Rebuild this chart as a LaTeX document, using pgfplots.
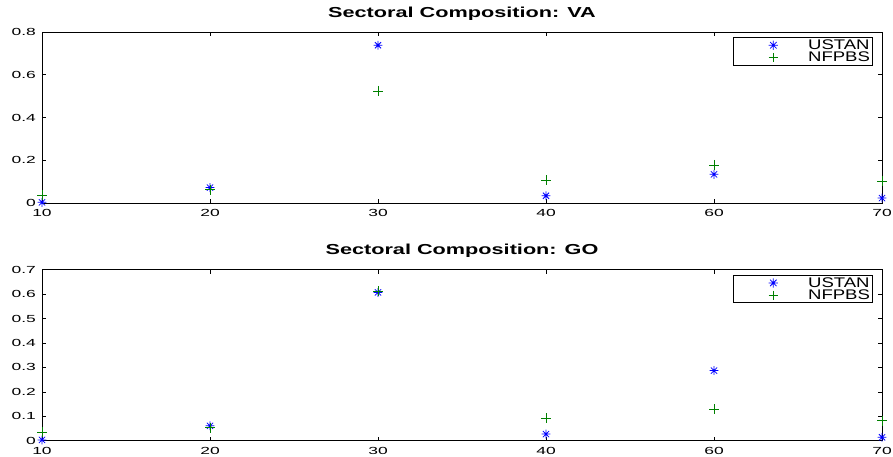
\documentclass[border=0pt]{standalone}
\usepackage{fontspec}
\setmainfont{Liberation Sans}
\newfontfamily\tickfont[FakeStretch=1.7]{Liberation Sans}
\newfontfamily\legfont[FakeStretch=1.33]{Liberation Sans}
\newfontfamily\titfont[FakeStretch=1.5]{Liberation Sans}
\usepackage{pgfplots}
\pgfplotsset{compat=1.18}
\definecolor{mblue}{rgb}{0,0,1}
\definecolor{mgreen}{rgb}{0,0.5,0}
\pgfdeclareplotmark{mstar}{%
  \pgfpathmoveto{\pgfqpoint{-\pgfplotmarksize}{0pt}}%
  \pgfpathlineto{\pgfqpoint{\pgfplotmarksize}{0pt}}%
  \pgfpathmoveto{\pgfqpoint{0pt}{-\pgfplotmarksize}}%
  \pgfpathlineto{\pgfqpoint{0pt}{\pgfplotmarksize}}%
  \pgfpathmoveto{\pgfqpoint{-0.707\pgfplotmarksize}{-0.707\pgfplotmarksize}}%
  \pgfpathlineto{\pgfqpoint{0.707\pgfplotmarksize}{0.707\pgfplotmarksize}}%
  \pgfpathmoveto{\pgfqpoint{-0.707\pgfplotmarksize}{0.707\pgfplotmarksize}}%
  \pgfpathlineto{\pgfqpoint{0.707\pgfplotmarksize}{-0.707\pgfplotmarksize}}%
  \pgfusepathqstroke}
\pgfplotsset{
  limg/.style 2 args={legend image code/.code={\path (0bp,0bp) (72bp,0bp); \draw[color=#1, line width=0.75bp] plot[only marks, mark=#2, mark size=4.6bp, mark options={draw=#1}] coordinates {(38bp,0bp)};}},
  u/.style={only marks, mark=mstar, mark size=4.4bp, mblue, mark options={line width=0.75bp, draw=mblue}, limg={mblue}{mstar}},
  n/.style={only marks, mark=+, mark size=5bp, mgreen, mark options={line width=0.75bp, draw=mgreen}, limg={mgreen}{+}},
  myax/.style={
    scale only axis, width=840bp, height=171bp,
    xmin=1, xmax=6, xtick={1,...,6}, xticklabels={10,20,30,40,60,70},
    tick align=inside, major tick length=4bp,
    axis line style={line width=0.8bp},
    tick style={black, line width=0.6bp},
    /pgf/number format/assume math mode=true,
    ticklabel style={font=\tickfont\fontsize{10.3}{12}\selectfont, inner sep=0pt},
    yticklabel style={xshift=-6bp},
    xticklabel style={yshift=-6bp},
    clip=false,
    title style={at={(0.5,1)}, anchor=base, yshift=9bp, inner sep=0pt,
      font=\titfont\bfseries\fontsize{14.5}{17}\selectfont},
    legend style={at={(rel axis cs:0.989,0.969)}, anchor=north east,
      draw=black, line width=0.6bp, inner xsep=2bp, inner ysep=1.5bp,
      font=\legfont\fontsize{14}{14}\selectfont,
      nodes={inner sep=0.5bp}, row sep=0bp},
    legend cell align=left,
  }
}
\begin{document}
\begin{tikzpicture}
\begin{axis}[myax, at={(42bp,254bp)}, anchor=south west, ymin=0, ymax=0.8,
  ytick={0,0.2,0.4,0.6,0.8}, title={Sectoral Composition: VA}]
\addplot[u] coordinates {(1,0.003)(2,0.072)(3,0.738)(4,0.034)(5,0.134)(6,0.023)};
\addplot[n] coordinates {(1,0.037)(2,0.062)(3,0.524)(4,0.106)(5,0.178)(6,0.103)};
\legend{USTAN,NFPBS}
\end{axis}
\begin{axis}[myax, at={(42bp,16.3bp)}, anchor=south west, ymin=0, ymax=0.7,
  ytick={0,0.1,0.2,0.3,0.4,0.5,0.6,0.7}, title={Sectoral Composition: GO}]
\addplot[u] coordinates {(1,0.003)(2,0.061)(3,0.607)(4,0.027)(5,0.287)(6,0.014)};
\addplot[n] coordinates {(1,0.034)(2,0.053)(3,0.611)(4,0.091)(5,0.128)(6,0.082)};
\legend{USTAN,NFPBS}
\end{axis}
\pgfresetboundingbox
\path[use as bounding box] (0,0) rectangle (893bp,457bp);
\end{tikzpicture}
\end{document}
